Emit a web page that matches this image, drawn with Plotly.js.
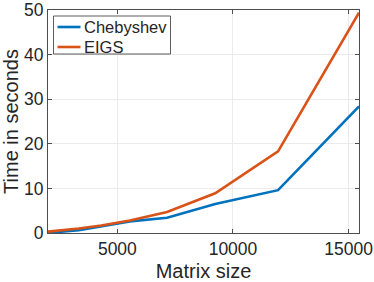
<!DOCTYPE html>
<html>
<head>
<meta charset="utf-8">
<script src="https://cdn.plot.ly/plotly-3.0.1.min.js"></script>
<style>html,body{margin:0;padding:0;background:#fff;}#chart{width:374px;height:282px;}</style>
</head>
<body>
<div id="chart"></div>
<script>
const matrixSize = [2000, 2580, 3330, 4300, 5540, 7150, 9230, 11950, 15450];
const chebyshevTime = [0.2, 0.3, 0.6, 1.5, 2.6, 3.4, 6.5, 9.6, 28.4];
const eigsTime = [0.3, 0.6, 1.0, 1.7, 2.8, 4.7, 8.9, 18.3, 49.4];
const seriesNames = ['Chebyshev', 'EIGS'];
const seriesColors = ['#0072BD', '#D95319'];
const xTicks = [5000, 10000, 15000];
const yTicks = [0, 10, 20, 30, 40, 50];

const font = 'Liberation Sans, Arial, Helvetica, sans-serif';
const textColor = '#262626';

const W = 374, H = 282;
const M = {l: 48, r: 15, t: 10, b: 49};
const PW = W - M.l - M.r, PH = H - M.t - M.b;
const px = v => (v - M.l) / PW;          // pixel x -> paper x
const py = v => (H - M.b - v) / PH;      // pixel y -> paper y

const traces = [chebyshevTime, eigsTime].map((ys, i) => ({
  x: matrixSize, y: ys, name: seriesNames[i], mode: 'lines',
  line: {color: seriesColors[i], width: 2.6}, showlegend: false
}));

const axisCommon = {
  showline: true, mirror: 'ticks', linecolor: '#4d4d4d', linewidth: 1,
  ticks: 'inside', ticklen: 4, tickcolor: '#4d4d4d', tickwidth: 1,
  showgrid: true, gridcolor: '#ebebeb', gridwidth: 1, zeroline: false,
  ticklabeloverflow: 'allow',
  tickfont: {family: font, size: 17.5, color: textColor}
};

// legend (box, line samples, labels)
const legendRows = [27, 47];
const shapes = [{type: 'rect', xref: 'paper', yref: 'paper',
  x0: px(53.5), x1: px(170.5), y0: py(16), y1: py(54),
  line: {color: '#333333', width: 0.8}, fillcolor: '#ffffff', layer: 'above'}];
const annotations = [];
seriesNames.forEach((name, i) => {
  shapes.push({type: 'line', xref: 'paper', yref: 'paper',
    x0: px(57.5), x1: px(80.5), y0: py(legendRows[i]), y1: py(legendRows[i]),
    line: {color: seriesColors[i], width: 2.6}, layer: 'above'});
  annotations.push({xref: 'paper', yref: 'paper', x: px(82), y: py(legendRows[i]),
    xanchor: 'left', yanchor: 'middle', showarrow: false, text: name,
    font: {family: font, size: 16.5, color: textColor}});
});

const layout = {
  width: W, height: H,
  margin: {l: M.l, r: M.r, t: M.t, b: M.b, pad: 0},
  paper_bgcolor: '#fff', plot_bgcolor: '#fff',
  showlegend: false,
  shapes: shapes, annotations: annotations,
  xaxis: Object.assign({}, axisCommon, {
    range: [2000, 15450], tickvals: xTicks, tickformat: 'd',
    title: {text: 'Matrix size', font: {family: font, size: 20, color: textColor}, standoff: 5}
  }),
  yaxis: Object.assign({}, axisCommon, {
    range: [0, 50], tickvals: yTicks, tickformat: 'd',
    title: {text: 'Time in seconds', font: {family: font, size: 20, color: textColor}, standoff: 5}
  })
};

Plotly.newPlot('chart', traces, layout, {staticPlot: true, displayModeBar: false});
</script>
</body>
</html>
